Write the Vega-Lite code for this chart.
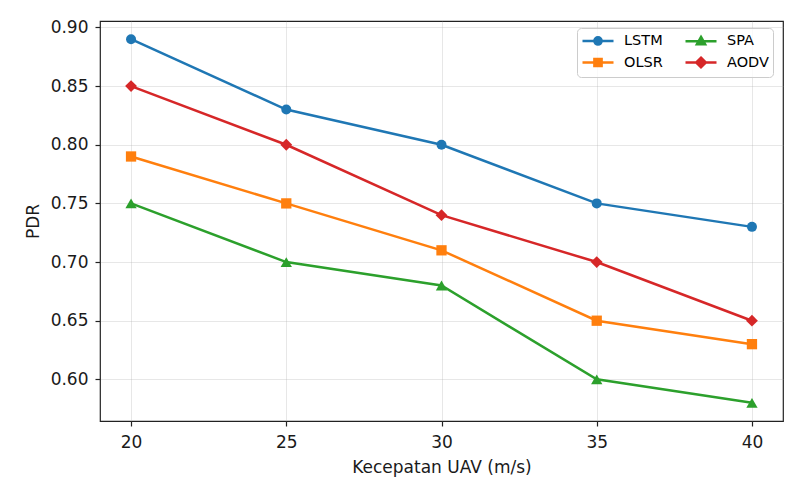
{
  "$schema": "https://vega.github.io/schema/vega-lite/v6.json",
  "width": 683,
  "height": 400,
  "autosize": "none",
  "padding": {"left": 100, "top": 21, "right": 4, "bottom": 70},
  "background": "white",
  "config": {
    "font": "DejaVu Sans",
    "view": {"stroke": "#222222", "strokeWidth": 1.2},
    "axis": {
      "domain": false,
      "grid": true,
      "gridColor": "#b0b0b0",
      "gridOpacity": 0.3,
      "gridWidth": 1,
      "tickColor": "#222222",
      "tickWidth": 1.2,
      "tickSize": 5,
      "labelFont": "DejaVu Sans",
      "labelFontSize": 17,
      "labelColor": "#1a1a1a",
      "titleFont": "DejaVu Sans",
      "titleFontSize": 17,
      "titleFontWeight": "normal",
      "titleColor": "#1a1a1a"
    }
  },
  "data": {
    "values": [
      {"speed": 20, "pdr": 0.89, "method": "LSTM"},
      {"speed": 25, "pdr": 0.83, "method": "LSTM"},
      {"speed": 30, "pdr": 0.80, "method": "LSTM"},
      {"speed": 35, "pdr": 0.75, "method": "LSTM"},
      {"speed": 40, "pdr": 0.73, "method": "LSTM"},
      {"speed": 20, "pdr": 0.79, "method": "OLSR"},
      {"speed": 25, "pdr": 0.75, "method": "OLSR"},
      {"speed": 30, "pdr": 0.71, "method": "OLSR"},
      {"speed": 35, "pdr": 0.65, "method": "OLSR"},
      {"speed": 40, "pdr": 0.63, "method": "OLSR"},
      {"speed": 20, "pdr": 0.75, "method": "SPA"},
      {"speed": 25, "pdr": 0.70, "method": "SPA"},
      {"speed": 30, "pdr": 0.68, "method": "SPA"},
      {"speed": 35, "pdr": 0.60, "method": "SPA"},
      {"speed": 40, "pdr": 0.58, "method": "SPA"},
      {"speed": 20, "pdr": 0.85, "method": "AODV"},
      {"speed": 25, "pdr": 0.80, "method": "AODV"},
      {"speed": 30, "pdr": 0.74, "method": "AODV"},
      {"speed": 35, "pdr": 0.70, "method": "AODV"},
      {"speed": 40, "pdr": 0.65, "method": "AODV"}
    ]
  },
  "encoding": {
    "x": {
      "field": "speed",
      "type": "quantitative",
      "scale": {"domain": [19, 41], "nice": false, "zero": false},
      "axis": {"values": [20, 25, 30, 35, 40], "title": "Kecepatan UAV (m/s)", "labelPadding": 8, "titleY": 51, "titleBaseline": "alphabetic"}
    },
    "y": {
      "field": "pdr",
      "type": "quantitative",
      "scale": {"domain": [0.5645, 0.9055], "nice": false, "zero": false},
      "axis": {"values": [0.6, 0.65, 0.7, 0.75, 0.8, 0.85, 0.9], "format": ".2f", "title": "PDR", "labelPadding": 7, "titleX": -62, "titleBaseline": "alphabetic"}
    },
    "color": {
      "field": "method",
      "type": "nominal",
      "scale": {"domain": ["LSTM", "SPA", "OLSR", "AODV"], "range": ["#1f77b4", "#2ca02c", "#ff7f0e", "#d62728"]},
      "legend": {
        "title": null,
        "orient": "none",
        "legendX": 477,
        "legendY": 7,
        "columns": 2,
        "direction": "horizontal",
        "padding": 4,
        "rowPadding": 2,
        "columnPadding": 17,
        "symbolSize": 196,
        "labelOffset": 26,
        "labelFontSize": 14.5,
        "labelColor": "#000000",
        "labelFont": "DejaVu Sans",
        "strokeColor": "#cccccc",
        "fillColor": "rgba(255,255,255,0.8)",
        "cornerRadius": 4,
        "encode": {
          "symbols": {
            "update": {
              "shape": {"signal": "datum.value === 'LSTM' ? 'M-1,0H3.43M1.728,0A0.514,0.514 0 1,1 0.7,0A0.514,0.514 0 1,1 1.728,0Z' : datum.value === 'OLSR' ? 'M-1,0H3.43M0.7,-0.514H1.728V0.514H0.7Z' : datum.value === 'SPA' ? 'M-1,0H3.43M1.214,-0.6L1.8,0.45H0.628Z' : 'M-1,0H3.43M1.214,-0.686L1.9,0L1.214,0.686L0.528,0Z'"},
              "fill": {"scale": "color", "field": "value"},
              "stroke": {"scale": "color", "field": "value"},
              "strokeWidth": {"value": 2.5},
              "opacity": {"value": 1},
              "fillOpacity": {"value": 1}
            }
          }
        }
      }
    }
  },
  "layer": [
    {
      "mark": {"type": "line", "strokeWidth": 2.5}
    },
    {
      "transform": [{"filter": "datum.method === 'LSTM'"}],
      "mark": {"type": "point", "filled": true, "opacity": 1, "shape": "circle", "size": 100}
    },
    {
      "transform": [{"filter": "datum.method === 'OLSR'"}],
      "mark": {"type": "point", "filled": true, "opacity": 1, "shape": "square", "size": 106}
    },
    {
      "transform": [{"filter": "datum.method === 'SPA'"}],
      "mark": {"type": "point", "filled": true, "opacity": 1, "shape": "triangle-up", "size": 128}
    },
    {
      "transform": [{"filter": "datum.method === 'AODV'"}],
      "mark": {"type": "point", "filled": true, "opacity": 1, "shape": "diamond", "size": 140}
    }
  ]
}
